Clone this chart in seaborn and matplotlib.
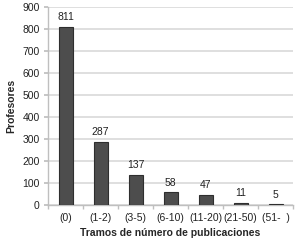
import matplotlib
matplotlib.use("Agg")
import matplotlib.pyplot as plt
import seaborn as sns
import pandas as pd

categories = ["(0)", "(1-2)", "(3-5)", "(6-10)", "(11-20)", "(21-50)", "(51-  )"]
values = [811, 287, 137, 58, 47, 11, 5]
yticks = [0, 100, 200, 300, 400, 500, 600, 700, 800, 900]

df = pd.DataFrame({"cat": categories, "val": values})

sns.set_theme(style="white")
plt.rcParams['font.family'] = ['Liberation Sans', 'DejaVu Sans']

fig = plt.figure(figsize=(3.0, 2.42), dpi=100)
ax = fig.add_axes([48/300, 1-205/242, 245/300, 198/242])

sns.barplot(data=df, x="cat", y="val", color="#4d4d4d", width=0.4, ax=ax,
            edgecolor="#2e2e2e", linewidth=0.8, saturation=1, zorder=3)

ax.set_ylim(0, 900)
ax.set_xlim(-0.5, 6.5)
ax.set_yticks(yticks)
ax.yaxis.grid(True, color="#d9d9d9", linewidth=1.2, zorder=0)
ax.set_axisbelow(True)
for s in ["top", "right"]:
    ax.spines[s].set_visible(False)
for s in ["left", "bottom"]:
    ax.spines[s].set_color("#bfbfbf")
    ax.spines[s].set_linewidth(1)

ax.set_xticks(range(len(categories)))
ax.set_xticklabels(categories, fontsize=7.5, color="#222222")
ax.tick_params(axis="x", length=0, pad=6)
ax.set_xticks([i + 0.5 for i in range(-1, len(categories))], minor=True)
ax.tick_params(axis="x", which="minor", length=3, color="#bfbfbf", bottom=True)
ax.tick_params(axis="y", labelsize=7.5, length=3, color="#bfbfbf", left=True, labelcolor="#222222", pad=3)

for i, v in enumerate(values):
    ax.text(i, v + 20, str(v), ha="center", va="bottom", fontsize=7.5, color="#222222")

ax.set_xlabel("Tramos de número de publicaciones", fontsize=7.5, fontweight="bold", labelpad=3)
ax.set_ylabel("Profesores", fontsize=7.5, fontweight="bold", labelpad=4)

fig.savefig("out.png", dpi=100)
